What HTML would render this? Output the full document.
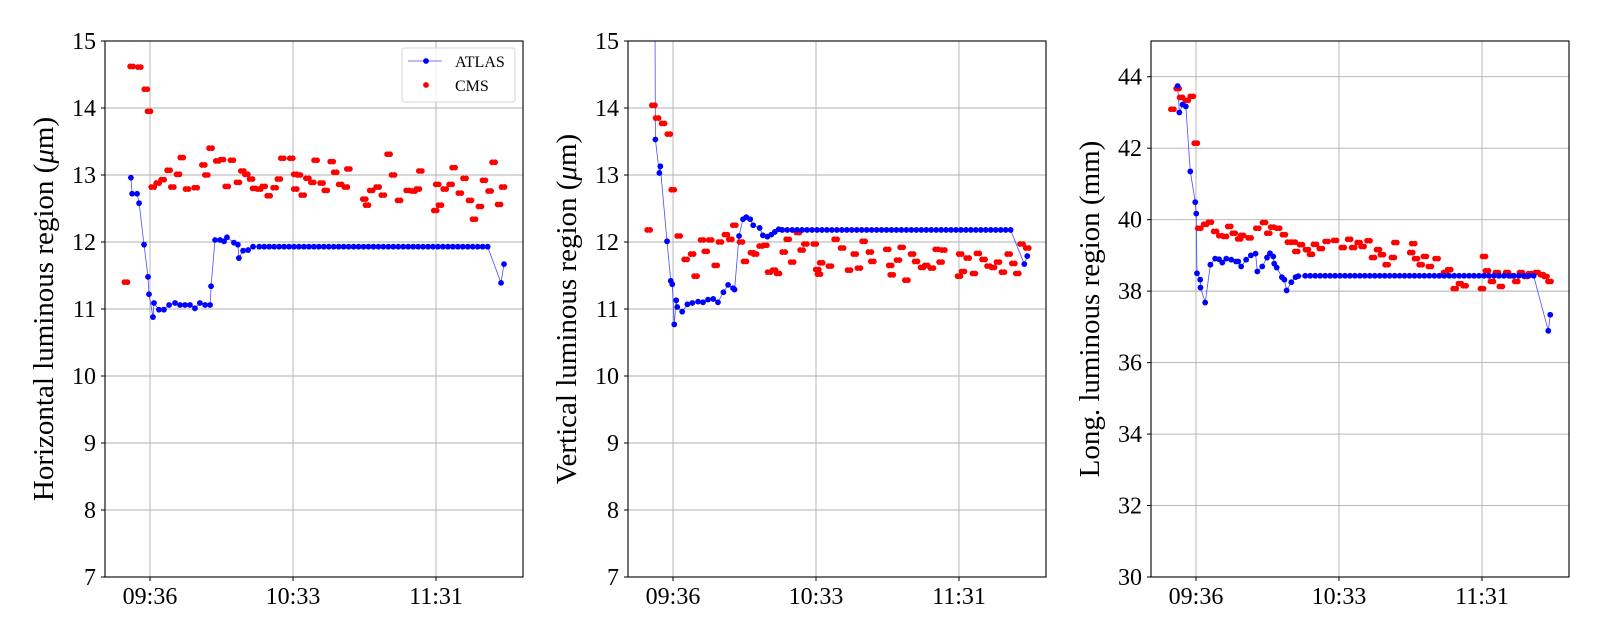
<!DOCTYPE html>
<html><head><meta charset="utf-8">
<style>
html,body{margin:0;padding:0;background:#fff;}
svg{display:block;font-family:"Liberation Serif","DejaVu Serif",serif;}
</style></head>
<body>
<svg id="fig" width="1600" height="640" viewBox="0 0 1600 640" xmlns="http://www.w3.org/2000/svg"></svg>
<script>
// ---- shared data ----
const xTickLabels = ["09:36","10:33","11:31"];
const xTickMinutes = [0, 57.6, 115.2];
const plateauT = [44,46,48,50,52,54,56,58,60,62,64,66,68,70,72,74,76,78,80,82,84,86,88,90,92,94,96,98,100,102,104,106,108,110,112,114,116,118,120,122,124,126,128,130,132,134,136];

// ---- panel 1: horizontal ----
const p1AtlasHeadT = [-7.7,-7.2,-5.2,-4.4,-2.4,-0.8,-0.4,1.2,1.6,3.6,5.6,7.7,10.1,12.1,14.1,16.1,18.1,20.1,22.2,24.2,24.6,26.2,28.2,29.8,31,33.8,35.4,35.8,37.5,39.5,41.5];
const p1AtlasHeadV = [12.96,12.72,12.72,12.58,11.96,11.48,11.22,10.88,11.09,10.99,10.99,11.06,11.09,11.06,11.06,11.06,11.01,11.09,11.06,11.06,11.34,12.03,12.03,12.01,12.07,11.99,11.96,11.76,11.87,11.88,11.93];
const p1PlateauV = [11.93,11.93,11.93,11.93,11.93,11.93,11.93,11.93,11.93,11.93,11.93,11.93,11.93,11.93,11.93,11.93,11.93,11.93,11.93,11.93,11.93,11.93,11.93,11.93,11.93,11.93,11.93,11.93,11.93,11.93,11.93,11.93,11.93,11.93,11.93,11.93,11.93,11.93,11.93,11.93,11.93,11.93,11.93,11.93,11.93,11.93,11.93];
const p1AtlasTailT = [141.4,142.6];
const p1AtlasTailV = [11.39,11.67];
const p1CmsT = [-9.7,-7.4,-4.3,-1.7,-0.4,1.1,3.1,5.1,7.5,9.0,11.3,12.8,14.9,18.4,21.5,22.7,24.4,27.1,29,33,30.9,35.4,37.2,38.8,40.7,41.9,44,45.8,47.8,50.2,51.9,53.3,56.9,58.5,60,58.5,61.5,63.4,65.4,66.7,69.1,70.8,73.2,74.6,76.6,78.9,79.9,86.3,87.4,89.1,91.7,93.8,96.1,97.9,100.3,103.8,106.2,107.9,108.9,114.9,115.7,116.8,118.7,121.1,122.3,124.8,126.7,128.9,130.5,132.9,134.5,136.8,138.4,140.6,142.2];
const p1CmsV = [11.40,14.62,14.61,14.28,13.95,12.82,12.88,12.93,13.07,12.82,13.01,13.26,12.79,12.81,13.15,13.0,13.40,13.21,13.23,13.22,12.83,12.89,13.06,13.01,12.94,12.80,12.79,12.83,12.69,12.81,12.94,13.25,13.25,13.01,13.0,12.79,12.70,12.95,12.89,13.22,12.88,12.77,13.20,13.04,12.86,12.82,13.09,12.64,12.55,12.77,12.82,12.70,13.31,13.0,12.62,12.77,12.76,12.79,13.06,12.47,12.86,12.55,12.79,12.86,13.11,12.73,12.95,12.62,12.34,12.53,12.92,12.76,13.19,12.56,12.82];
const p1YTicks = [7,8,9,10,11,12,13,14,15];

// ---- panel 2: vertical ----
const p2AtlasHeadT = [-7.4,-7.1,-5.5,-5.1,-2.4,-0.9,-0.3,0.5,1.3,1.7,3.7,5.8,7.8,10.1,12.1,14.1,16.2,18.1,20.3,22.2,24.2,24.8,26.6,28.2,29.5,31.1,32.3,34.9,36.2,38,39.6,41,42.6];
const p2AtlasHeadV = [17,13.53,13.03,13.13,12.01,11.42,11.37,10.77,11.13,11.03,10.96,11.07,11.09,11.11,11.1,11.14,11.15,11.1,11.25,11.36,11.31,11.29,12.09,12.34,12.37,12.34,12.25,12.21,12.1,12.08,12.11,12.15,12.19];
const p2PlateauV = [12.18,12.18,12.18,12.18,12.18,12.18,12.18,12.18,12.18,12.18,12.18,12.18,12.18,12.18,12.18,12.18,12.18,12.18,12.18,12.18,12.18,12.18,12.18,12.18,12.18,12.18,12.18,12.18,12.18,12.18,12.18,12.18,12.18,12.18,12.18,12.18,12.18,12.18,12.18,12.18,12.18,12.18,12.18,12.18,12.18,12.18,12.18];
const p2AtlasTailT = [141.5,142.7];
const p2AtlasTailV = [11.67,11.79];
const p2CmsT = [-9.8,-7.9,-6.4,-4.0,-1.7,-0.1,2.3,5.1,7.7,9.1,11.7,13.2,15,17.2,18.9,21.3,23.1,24.7,27.4,29,31.8,33.1,35.3,37.2,38.7,40.7,42.3,44.6,46.2,48,50.3,51.8,53.3,57.1,58.1,58.8,59.7,63.2,65.5,68.1,70.9,73.2,74.9,76.8,79.3,80.3,86.3,87.5,88.1,90.6,92.1,94,96.3,97.9,100.3,102,104.3,106.2,107.8,108.9,115.2,115.7,116.8,118.7,121.2,122.8,125.1,127.1,128.9,130.9,132.9,135.2,137.1,138.7,140.4,142.7];
const p2CmsV = [12.18,14.04,13.85,13.77,13.61,12.78,12.09,11.74,11.82,11.49,12.03,11.86,12.03,11.65,12.0,12.11,12.04,12.25,12.0,11.71,11.84,11.82,11.94,11.95,11.55,11.58,11.53,11.85,12.04,11.70,12.14,11.88,11.97,11.97,11.59,11.52,11.69,11.64,12.04,11.91,11.58,11.82,11.61,12.01,11.85,11.71,11.89,11.65,11.51,11.73,11.92,11.43,11.82,11.71,11.62,11.65,11.61,11.89,11.70,11.88,11.49,11.82,11.56,11.76,11.53,11.83,11.74,11.64,11.62,11.70,11.55,11.82,11.68,11.53,11.97,11.91];
const p2YTicks = [7,8,9,10,11,12,13,14,15];

// ---- panel 3: longitudinal ----
const p3AtlasHeadT = [-7.4,-6.7,-5.4,-4.1,-2.3,-0.3,0.1,0.4,1.7,1.8,3.7,5.8,7.7,9.3,10.6,12.2,14.2,16.1,17,18.2,20.2,22.1,24,24.7,26.7,28.6,29.8,31.1,31.5,32.5,34.6,35.6,36.5,38.4,40.1,41.2];
const p3AtlasHeadV = [43.74,43.0,43.22,43.17,41.35,40.49,40.17,38.5,38.32,38.1,37.68,38.74,38.91,38.89,38.8,38.91,38.88,38.83,38.83,38.69,38.88,39.0,39.05,38.55,38.69,38.94,39.06,38.97,38.77,38.66,38.39,38.32,38.02,38.25,38.39,38.42];
const p3PlateauV = [38.43,38.43,38.43,38.43,38.43,38.43,38.43,38.43,38.43,38.43,38.43,38.43,38.43,38.43,38.43,38.43,38.43,38.43,38.43,38.43,38.43,38.43,38.43,38.43,38.43,38.43,38.43,38.43,38.43,38.43,38.43,38.43,38.43,38.43,38.43,38.43,38.43,38.43,38.43,38.43,38.43,38.43,38.43,38.43,38.43,38.43,38.43];
const p3AtlasTailT = [141.9,142.7];
const p3AtlasTailV = [36.89,37.34];
const p3CmsT = [-9.5,-7.4,-6.0,-3.7,-1.7,-0.1,1.3,3.7,5.6,7.7,9.8,11.7,13.4,15.2,17.4,18.6,21.6,24.7,27.4,29.1,30.7,33.1,35.4,37.4,39.4,40.4,42.3,44.7,46.3,47.9,50.3,52.6,56,59.1,61.7,63.3,65.5,67.1,69.5,71.3,73.3,74.9,76.8,79.3,80.3,86.7,87.5,88.6,90.5,92.2,94.2,96.9,100.3,102,104.2,106.3,108.2,115.2,116,117.2,119.2,121.2,122.8,125.3,127.3,129,130.9,132.9,134.5,137.3,139.3,140.8,142.4];
const p3CmsV = [43.09,43.67,43.42,43.34,43.45,42.14,39.76,39.87,39.93,39.67,39.55,39.53,39.81,39.62,39.46,39.56,39.49,39.76,39.92,39.62,39.79,39.76,39.58,39.37,39.37,39.11,39.30,39.16,39.03,39.31,39.19,39.39,39.42,39.22,39.45,39.22,39.36,39.25,39.41,38.94,39.16,39.02,38.74,38.94,39.36,39.08,39.33,38.91,38.74,38.97,38.69,38.91,38.52,38.60,38.07,38.21,38.15,38.07,38.97,38.57,38.27,38.52,38.13,38.52,38.43,38.27,38.52,38.41,38.49,38.52,38.46,38.41,38.27];
const p3YTicks = [30,32,34,36,38,40,42,44];

const NS = "http://www.w3.org/2000/svg";
const svg = document.getElementById("fig");
function mk(tag, attrs, parent){
  const e = document.createElementNS(NS, tag);
  for (const k in attrs) e.setAttribute(k, attrs[k]);
  (parent || svg).appendChild(e);
  return e;
}

const TOP = 41, BOT = 577, W = 418, PXMIN = 143/57.6;

function drawPanel(idx, left, yMin, yMax, yTicks, atlasT, atlasV, cmsT, cmsV, title, showLegend){
  const xs = t => left + 45 + t * PXMIN;
  const ys = v => BOT - (v - yMin) / (yMax - yMin) * (BOT - TOP);
  const g = mk("g", {});
  
  
  const cp = mk("clipPath", {id: "clip" + idx}, g);
  mk("rect", {x: left, y: TOP, width: W, height: BOT - TOP}, cp);

  // grid
  const grid = mk("g", {stroke: "#b0b0b0", "stroke-width": 0.9}, g);
  
  
  yTicks.forEach(v => { mk("line", {x1: left, x2: left + W, y1: ys(v), y2: ys(v)}, grid); });
  xTickMinutes.forEach(t => { mk("line", {x1: xs(t), x2: xs(t), y1: TOP, y2: BOT}, grid); });

  // ATLAS line + markers
  const data = mk("g", {"clip-path": "url(#clip" + idx + ")"}, g);
  let d = "";
  atlasT.forEach((t, i) => { d += (i ? "L" : "M") + xs(t).toFixed(1) + "," + ys(atlasV[i]).toFixed(1); });
  const ln = mk("path", {d: d, fill: "none", stroke: "#0000ff", "stroke-width": 0.8, "stroke-opacity": 0.7}, data);
  
  
  // CMS markers (drawn as short pills: two overlapping dots)
  cmsT.forEach((t, i) => {
    [-0.6, 0.6].forEach(o => {
      const c = mk("circle", {cx: xs(t + o), cy: ys(cmsV[i]), r: 2.9, fill: "#ff0000"}, data);
      
      
    });
  });
  atlasT.forEach((t, i) => {
    const c = mk("circle", {cx: xs(t), cy: ys(atlasV[i]), r: 2.9, fill: "#0000ff"}, data);
    
    
  });

  // frame
  const fr = mk("rect", {x: left, y: TOP, width: W, height: BOT - TOP, fill: "none", stroke: "#000", "stroke-width": 1.1}, g);
  
  

  // y ticks
  yTicks.forEach(v => {
    mk("line", {x1: left - 4, x2: left, y1: ys(v), y2: ys(v), stroke: "#000", "stroke-width": 1}, g);
    const tx = mk("text", {x: left - 9, y: ys(v) + 8, "text-anchor": "end", "font-size": 24, fill: "#000"}, g);
    tx.textContent = String(v);
    
    
  });
  // x ticks
  xTickMinutes.forEach((t, i) => {
    mk("line", {x1: xs(t), x2: xs(t), y1: BOT, y2: BOT + 4, stroke: "#000", "stroke-width": 1}, g);
    const tx = mk("text", {x: xs(t), y: 604, "text-anchor": "middle", "font-size": 24, fill: "#000"}, g);
    tx.textContent = xTickLabels[i];
    
    
  });
  // y title
  const cx = left - 61, cy = (TOP + BOT) / 2;
  const yt = mk("text", {x: cx, y: cy, transform: "rotate(-90 " + cx + " " + cy + ")", "text-anchor": "middle", "dominant-baseline": "central", "font-size": 29, fill: "#000"}, g);
  
  
  title.forEach(part => {
    const s = mk("tspan", part.italic ? {"font-style": "italic"} : {}, yt);
    s.textContent = part.t;
  });

  if (showLegend){
    const lg = mk("g", {}, g);
    
    
    mk("rect", {x: 402, y: 48, width: 113, height: 54, rx: 3, fill: "#fff", "fill-opacity": 0.8, stroke: "#d6d6d6", "stroke-width": 1}, lg);
    const e1 = mk("g", {}, lg);
    
    
    mk("line", {x1: 408, x2: 442, y1: 61, y2: 61, stroke: "#0000ff", "stroke-width": 0.8, "stroke-opacity": 0.7}, e1);
    mk("circle", {cx: 426, cy: 61, r: 2.9, fill: "#0000ff"}, e1);
    const t1 = mk("text", {x: 455, y: 67, "font-size": 16, fill: "#000"}, e1);
    t1.textContent = "ATLAS";
    const e2 = mk("g", {}, lg);
    
    
    mk("circle", {cx: 426, cy: 85, r: 2.9, fill: "#ff0000"}, e2);
    const t2 = mk("text", {x: 455, y: 91, "font-size": 16, fill: "#000"}, e2);
    t2.textContent = "CMS";
  }
}

drawPanel(1, 105, 7, 15, p1YTicks,
  p1AtlasHeadT.concat(plateauT, p1AtlasTailT), p1AtlasHeadV.concat(p1PlateauV, p1AtlasTailV),
  p1CmsT, p1CmsV,
  [{t: "Horizontal luminous region ("}, {t: "μ", italic: true}, {t: "m)"}], true);
drawPanel(2, 628, 7, 15, p2YTicks,
  p2AtlasHeadT.concat(plateauT, p2AtlasTailT), p2AtlasHeadV.concat(p2PlateauV, p2AtlasTailV),
  p2CmsT, p2CmsV,
  [{t: "Vertical luminous region ("}, {t: "μ", italic: true}, {t: "m)"}], false);
drawPanel(3, 1151, 30, 45, p3YTicks,
  p3AtlasHeadT.concat(plateauT, p3AtlasTailT), p3AtlasHeadV.concat(p3PlateauV, p3AtlasTailV),
  p3CmsT, p3CmsV,
  [{t: "Long. luminous region (mm)"}], false);
</script>
</body></html>
